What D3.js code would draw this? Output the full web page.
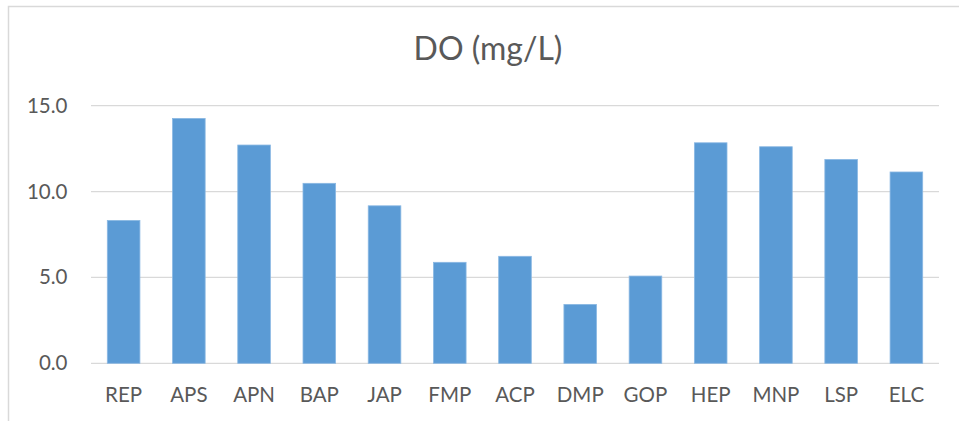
<!DOCTYPE html>
<html>
<head>
<meta charset="utf-8">
<script src="https://cdn.jsdelivr.net/npm/d3@7"></script>
<style>
  html, body { margin: 0; padding: 0; background: #fff; }
  svg { display: block; }
</style>
</head>
<body>
<svg id="chart" width="959" height="421"></svg>
<script>
const categories = ["REP","APS","APN","BAP","JAP","FMP","ACP","DMP","GOP","HEP","MNP","LSP","ELC"];
const values = [8.32, 14.26, 12.71, 10.48, 9.17, 5.88, 6.23, 3.43, 5.08, 12.84, 12.61, 11.87, 11.14];
const yTicks = [0, 5, 10, 15];
const title = "DO (mg/L)";

const svg = d3.select("#chart");
const W = 959, H = 421;
const plot = { left: 91, right: 939, top: 105.7, bottom: 363.3 };

// chart border
svg.append("rect")
  .attr("x", 8.5).attr("y", 6.5)
  .attr("width", W + 20).attr("height", H + 20)
  .attr("fill", "#fff")
  .attr("stroke", "#d9d9d9").attr("stroke-width", 1.5);

const x = d3.scaleBand().domain(categories)
  .range([plot.left, plot.right]).paddingInner(0.5).paddingOuter(0.25);
const y = d3.scaleLinear().domain([0, 15]).range([plot.bottom, plot.top]);

// gridlines
svg.append("g").selectAll("line").data(yTicks).join("line")
  .attr("x1", plot.left).attr("x2", plot.right)
  .attr("y1", d => y(d)).attr("y2", d => y(d))
  .attr("stroke", "#d9d9d9").attr("stroke-width", 1.3);

// y axis labels
const yAxis = d3.axisLeft(y).tickValues(yTicks).tickFormat(d3.format(".1f")).tickSize(0).tickPadding(0);
const gy = svg.append("g").attr("transform", `translate(67.5,0)`).call(yAxis);
gy.select(".domain").remove();
gy.selectAll("text")
  .attr("font-family", "Lato, 'Open Sans', sans-serif")
  .attr("font-size", 20.5).attr("fill", "#595959");

// bars
svg.append("g").selectAll("rect").data(categories).join("rect")
  .attr("x", d => x(d)).attr("width", x.bandwidth())
  .attr("y", (d, i) => y(values[i]))
  .attr("height", (d, i) => y(0) - y(values[i]))
  .attr("fill", "#5b9bd5")
  .attr("stroke", "#8ab8e3").attr("stroke-width", 0.8);

// x axis labels
const xAxis = d3.axisBottom(x).tickSize(0).tickPadding(0);
const gx = svg.append("g").attr("transform", `translate(0,${plot.bottom})`).call(xAxis);
gx.select(".domain").remove();
gx.selectAll("text")
  .attr("dy", null).attr("y", 38.5)
  .attr("font-family", "Lato, 'Open Sans', sans-serif")
  .attr("font-size", 20.5).attr("fill", "#595959");

// title
svg.append("text")
  .attr("x", 488).attr("y", 60)
  .attr("text-anchor", "middle")
  .attr("font-family", "Lato, 'Open Sans', sans-serif")
  .attr("font-size", 32).attr("fill", "#595959")
  .text(title);
</script>
</body>
</html>
